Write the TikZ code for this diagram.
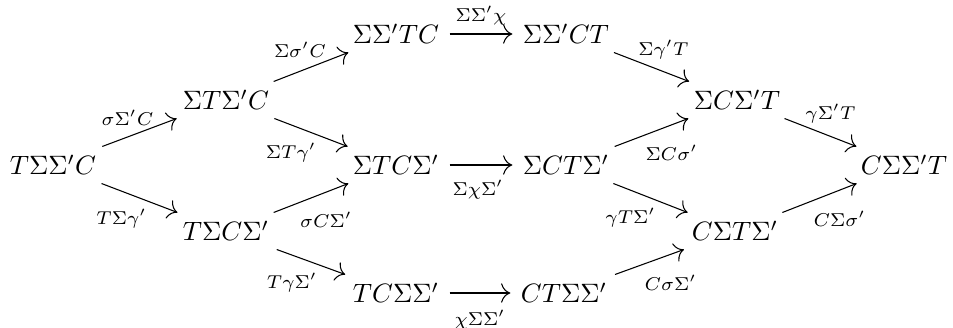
\documentclass[tikz,border=0pt]{standalone}
\usetikzlibrary{cd,arrows.meta}
\begin{document}
\begin{tikzpicture}[x=0.376pt,y=-0.376pt,
  obj/.style={inner xsep=3.8pt, inner ysep=3pt},
  ar/.style={-{cm to[scale=1.4]}, line width=0.4pt},
  lab/.style={font=\scriptsize, inner sep=0pt}]
\useasboundingbox (0,0) rectangle (953,328);
\node[obj] (A) at (53,165) {$T\Sigma\Sigma'C$};
\node[obj] (B) at (226,100) {$\Sigma T\Sigma'C$};
\node[obj] (C) at (226,231) {$T\Sigma C\Sigma'$};
\node[obj] (D) at (396,34) {$\Sigma\Sigma'TC$};
\node[obj] (E) at (396,165) {$\Sigma TC\Sigma'$};
\node[obj] (F) at (396,293) {$TC\Sigma\Sigma'$};
\node[obj] (G) at (566,34) {$\Sigma\Sigma'CT$};
\node[obj] (H) at (566,165) {$\Sigma CT\Sigma'$};
\node[obj] (I) at (564,293) {$CT\Sigma\Sigma'$};
\node[obj] (J) at (737,100) {$\Sigma C\Sigma'T$};
\node[obj] (K) at (735,231) {$C\Sigma T\Sigma'$};
\node[obj] (L) at (904,165) {$C\Sigma\Sigma'T$};
\draw[ar] (A) -- node[midway, lab, shift={(-12,-15)}] {$\sigma\Sigma'C$} (B);
\draw[ar] (A) -- node[midway, lab, shift={(-18,21)}] {$T\Sigma\gamma'$} (C);
\draw[ar] (B) -- node[midway, lab, shift={(-11,-17)}] {$\Sigma\sigma'C$} (D);
\draw[ar] (B) -- node[midway, lab, shift={(-20,20)}] {$\Sigma T\gamma'$} (E);
\draw[ar] (C) -- node[midway, lab, shift={(15,22)}] {$\sigma C\Sigma'$} (E);
\draw[ar] (C) -- node[midway, lab, shift={(-19,21)}] {$T\gamma\Sigma'$} (F);
\draw[ar] (D) -- node[midway, lab, shift={(0,-18)}] {$\Sigma\Sigma'\chi$} (G);
\draw[ar] (E) -- node[midway, lab, shift={(-3,25)}] {$\Sigma\chi\Sigma'$} (H);
\draw[ar] (F) -- node[midway, lab, shift={(0,27)}] {$\chi\Sigma\Sigma'$} (I);
\draw[ar] (G) -- node[midway, lab, shift={(12,-17)}] {$\Sigma\gamma'T$} (J);
\draw[ar] (H) -- node[midway, lab, shift={(20,20)}] {$\Sigma C\sigma'$} (J);
\draw[ar] (H) -- node[midway, lab, shift={(-20,20)}] {$\gamma T\Sigma'$} (K);
\draw[ar] (I) -- node[midway, lab, shift={(21,21)}] {$C\sigma\Sigma'$} (K);
\draw[ar] (J) -- node[midway, lab, shift={(10,-19)}] {$\gamma\Sigma'T$} (L);
\draw[ar] (K) -- node[midway, lab, shift={(20,21)}] {$C\Sigma\sigma'$} (L);
\end{tikzpicture}
\end{document}
